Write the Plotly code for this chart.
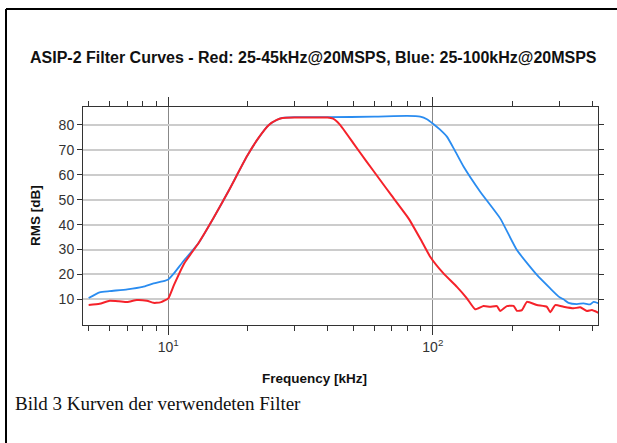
import numpy as np
import plotly.graph_objects as go

# ---------------- data ----------------
red_f = [5.0, 5.5, 6.0, 6.5, 7.0, 7.6, 8.3, 8.8, 9.0, 9.4, 10.0, 10.5, 11.5, 13.0, 14.8, 17.0,
         19.8, 22.0, 24.0, 25.7, 27.0, 30.0, 35.0, 40.0, 42.0, 44.6, 50.1, 56.0, 63.2, 70.0,
         80.9, 90.0, 97.7, 109.7, 123.3, 134.5, 144.5, 155.4, 164.7, 174.6, 179.7, 190.5,
         201.8, 207.8, 217.1, 226.8, 247.4, 269.9, 277.8, 290.1, 311.8, 340.2, 360.6, 382.2,
         399.3, 423.0]
red_db = [7.7, 8.2, 9.4, 9.2, 8.9, 9.7, 9.4, 8.6, 8.6, 8.9, 10.4, 15.7, 24.5, 32.5, 42.5, 54.0,
          67.3, 75.0, 80.0, 82.0, 82.8, 83.0, 83.0, 83.0, 82.5, 80.0, 72.6, 65.5, 57.9, 51.5,
          42.5, 34.0, 27.1, 20.4, 15.0, 10.4, 6.0, 7.3, 7.0, 7.3, 5.3, 7.3,
          7.4, 5.4, 5.7, 9.0, 7.7, 7.0, 4.8, 7.7, 7.0, 6.4, 6.8, 5.3,
          5.7, 4.6]

blue_f = [5.0, 5.5, 6.0, 7.0, 8.0, 8.8, 9.5, 10.0, 10.5, 11.5, 13.0, 14.8, 17.0, 19.8, 22.0,
          24.0, 25.7, 27.0, 30.0, 40.0, 60.0, 80.0, 89.6, 95.0, 100.4, 106.0, 113.0, 121.0,
          130.6, 151.0, 179.7, 207.8, 247.4, 277.8, 300.0, 311.8, 325.6, 350.4, 371.1, 393.4,
          404.9, 423.0]
blue_db = [10.5, 12.8, 13.3, 14.0, 15.0, 16.4, 17.2, 18.0, 20.4, 25.8, 32.5, 42.5, 54.0, 67.3, 75.0,
           80.0, 82.0, 82.8, 83.1, 83.1, 83.3, 83.6, 83.3, 82.3, 80.4, 78.3, 75.3, 69.8,
           63.3, 53.2, 42.5, 29.8, 19.8, 14.4, 11.0, 10.0, 8.6, 8.1, 8.4, 8.0,
           9.0, 8.4]

major_x = [10, 100]
major_x_text = ["10<sup>1</sup>", "10<sup>2</sup>"]
minor_x = [5, 6, 7, 8, 9, 20, 30, 40, 50, 60, 70, 80, 90, 200, 300, 400]
y_ticks = [10, 20, 30, 40, 50, 60, 70, 80]

title_text = "ASIP-2 Filter Curves - Red: 25-45kHz@20MSPS, Blue: 25-100kHz@20MSPS"
x_title = "Frequency [kHz]"
y_title = "RMS [dB]"
caption = "Bild 3 Kurven der verwendeten Filter"

# ---------------- layout geometry ----------------
W, H = 617, 443
L, R, T, B = 83, 598, 107, 325  # plot area in pixels


def px(x):
    return (x - L) / (R - L)


def py(y):
    return (B - y) / (B - T)


fig = go.Figure()
fig.add_trace(go.Scatter(x=blue_f, y=blue_db, mode="lines",
                         line=dict(color="#2a8cf0", width=1.8, shape="spline", smoothing=0.5),
                         showlegend=False))
fig.add_trace(go.Scatter(x=red_f, y=red_db, mode="lines",
                         line=dict(color="#f5222a", width=2, shape="spline", smoothing=0.4),
                         showlegend=False))

axis_common = dict(showline=True, linecolor="#333333", linewidth=1, mirror="allticks",
                   ticks="outside", tickcolor="#333333", zeroline=False,
                   tickfont=dict(family="Liberation Sans, Arial", size=14, color="#333333"))

fig.update_xaxes(type="log", range=[np.log10(4.76), np.log10(421)],
                 tickvals=major_x, ticktext=major_x_text, ticklen=9,
                 showgrid=True, gridcolor="#888888", gridwidth=1,
                 minor=dict(tickvals=minor_x, ticks="outside", ticklen=5,
                            tickcolor="#333333", showgrid=False),
                 **axis_common)
fig.update_yaxes(range=[-0.3, 87.2], tickvals=y_ticks, ticklen=5,
                 showgrid=True, gridcolor="#cccccc", gridwidth=1.5,
                 **axis_common)

annotations = [
    dict(text="<b>" + title_text + "</b>", x=px(313), y=py(57), xref="paper", yref="paper",
         showarrow=False, font=dict(family="Liberation Sans, Arial", size=16, color="#111111"),
         xanchor="center", yanchor="middle"),
    dict(text="<b>" + x_title + "</b>", x=px(314), y=py(378), xref="paper", yref="paper",
         showarrow=False, font=dict(family="Liberation Sans, Arial", size=13.5, color="#111111"),
         xanchor="center", yanchor="middle"),
    dict(text="<b>" + y_title + "</b>", x=px(35), y=py(216), xref="paper", yref="paper",
         showarrow=False, textangle=-90,
         font=dict(family="Liberation Sans, Arial", size=13.5, color="#111111"),
         xanchor="center", yanchor="middle"),
    dict(text=caption, x=px(13), y=py(403), xref="paper", yref="paper",
         showarrow=False, font=dict(family="Liberation Serif, Times New Roman", size=19,
                                    color="#111111"),
         xanchor="left", yanchor="middle"),
]

shapes = [
    dict(type="line", xref="paper", yref="paper", x0=px(6), x1=px(620), y0=py(9), y1=py(9),
         line=dict(color="black", width=2)),
    dict(type="line", xref="paper", yref="paper", x0=px(6), x1=px(6), y0=py(9), y1=py(446),
         line=dict(color="black", width=2)),
]

fig.update_layout(width=W, height=H, margin=dict(l=L, r=W - R, t=T, b=H - B),
                  paper_bgcolor="white", plot_bgcolor="white",
                  annotations=annotations, shapes=shapes)

fig.write_html("out.html")
